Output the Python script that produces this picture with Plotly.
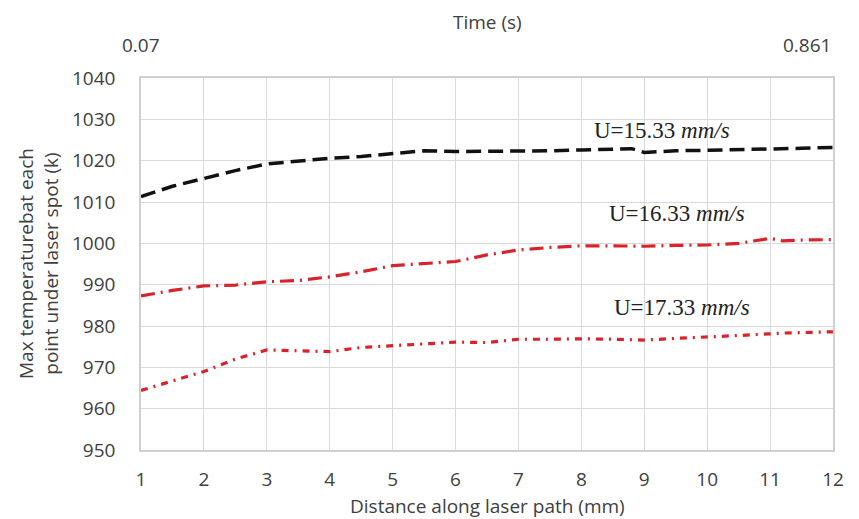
import plotly.graph_objects as go

# Distance along the laser path (mm)
distance = [1, 1.5, 2, 2.5, 3, 3.5, 4, 4.5, 5, 5.5, 6, 6.5, 7, 7.5, 8, 8.5, 8.8, 9, 9.5, 10, 10.5, 11, 11.2, 11.5, 12]

# Peak temperature under the laser spot (K) for three scan speeds
temp_15_33 = [1011.3, 1013.8, 1015.7, 1017.6, 1019.2, 1020.0, 1020.6, 1021.0, 1021.8, 1022.4, 1022.2, 1022.2, 1022.3, 1022.4, 1022.6, 1022.8, 1022.9, 1022.0, 1022.4, 1022.5, 1022.6, 1022.7, 1022.8, 1023.0, 1023.2]
temp_16_33 = [987.3, 988.6, 989.7, 989.9, 990.7, 991.0, 991.9, 993.1, 994.6, 995.1, 995.6, 997.2, 998.4, 999.0, 999.4, 999.4, 999.3, 999.3, 999.5, 999.6, 1000.0, 1001.2, 1000.6, 1000.8, 1000.9]
temp_17_33 = [964.4, 966.6, 969.0, 972.0, 974.2, 974.0, 973.8, 974.8, 975.2, 975.6, 976.1, 976.0, 976.8, 976.8, 976.9, 976.8, 976.7, 976.6, 977.0, 977.3, 977.7, 978.1, 978.3, 978.4, 978.6]

# Time axis end labels (s)
time_start, time_end = "0.07", "0.861"

speed_labels = ["U=15.33 <i>mm/s</i>", "U=16.33 <i>mm/s</i>", "U=17.33 <i>mm/s</i>"]
label_pos = [(9.28, 1027.4), (9.52, 1007.1), (9.6, 984.5)]

RED = "#d9232b"
fig = go.Figure()
fig.add_trace(go.Scatter(x=distance, y=temp_15_33, mode="lines",
                         line=dict(color="#111111", width=3.5, dash="15px,7px")))
fig.add_trace(go.Scatter(x=distance, y=temp_16_33, mode="lines",
                         line=dict(color=RED, width=3.2, dash="14px,6px,2px,6px")))
fig.add_trace(go.Scatter(x=distance, y=temp_17_33, mode="lines",
                         line=dict(color=RED, width=3.2, dash="7px,6px,2px,6px")))

for txt, (lx, ly) in zip(speed_labels, label_pos):
    fig.add_annotation(x=lx, y=ly, text=txt, showarrow=False,
                       font=dict(family="Liberation Serif", size=23, color="#222222"))

tick_font = dict(family="Open Sans", size=19, color="#404040")

# top time axis: end labels and title
fig.add_annotation(x=1, y=1.0, xref="x", yref="paper", yshift=33, text=time_start,
                   showarrow=False, font=tick_font, xanchor="center", yanchor="middle")
fig.add_annotation(x=12, y=1.0, xref="x", yref="paper", yshift=33, text=time_end,
                   showarrow=False, font=tick_font, xanchor="right", yanchor="middle")
fig.add_annotation(x=0.5, y=1.0, xref="paper", yref="paper", yshift=56, text="Time (s)",
                   showarrow=False, font=tick_font, xanchor="center", yanchor="middle")

# axis titles
fig.add_annotation(x=0.5, y=0, xref="paper", yref="paper", yshift=-56,
                   text="Distance along laser path (mm)", showarrow=False,
                   font=tick_font, xanchor="center", yanchor="middle")
fig.add_annotation(x=0, y=0.5, xref="paper", yref="paper", xshift=-103,
                   text="Max temperaturebat each<br>point under laser spot (k)",
                   textangle=-90, showarrow=False, font=tick_font,
                   xanchor="center", yanchor="middle")

fig.update_layout(
    width=859, height=519,
    margin=dict(l=141, r=26, t=78, b=69, autoexpand=False),
    paper_bgcolor="white", plot_bgcolor="white",
    showlegend=False,
    font=tick_font,
)
fig.update_xaxes(range=[1, 12], tickvals=list(range(1, 13)), showgrid=True,
                 gridcolor="#d9d9d9", gridwidth=1.2, zeroline=False, automargin=False,
                 showline=True, linecolor="#d0d0d0", linewidth=1.5, mirror=True,
                 ticks="", ticklabelstandoff=11, tickfont=tick_font)
fig.update_yaxes(range=[950, 1040], tickvals=list(range(950, 1041, 10)), showgrid=True,
                 gridcolor="#d9d9d9", gridwidth=1.2, zeroline=False, automargin=False,
                 showline=True, linecolor="#d0d0d0", linewidth=1.5, mirror=True,
                 ticks="", ticklabelstandoff=20, tickfont=tick_font)

fig.write_html("out.html")
